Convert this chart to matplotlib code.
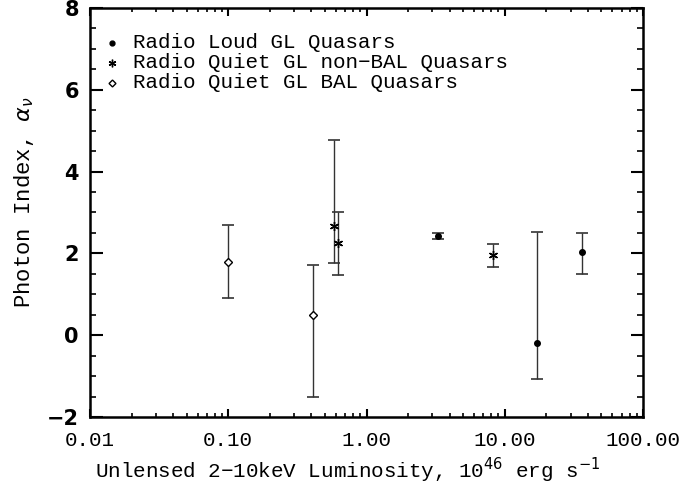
import numpy as np
import matplotlib
matplotlib.use("Agg")
import matplotlib.pyplot as plt
from matplotlib.ticker import FixedLocator, NullFormatter, MultipleLocator

# Radio loud GL quasars (filled dots)
rl_lum = [3.3, 17.1, 36.0]
rl_idx = [2.42, -0.18, 2.03]
rl_lo = [2.34, -1.08, 1.49]
rl_hi = [2.51, 2.53, 2.49]

# Radio quiet GL non-BAL quasars (asterisks)
rq_lum = [0.58, 0.62, 8.2]
rq_idx = [2.67, 2.26, 1.95]
rq_lo = [1.77, 1.48, 1.66]
rq_hi = [4.77, 3.00, 2.22]

# Radio quiet GL BAL quasars (open diamonds)
bal_lum = [0.10, 0.41]
bal_idx = [1.80, 0.49]
bal_lo = [0.90, -1.52]
bal_hi = [2.70, 1.71]

x_ticks = [0.01, 0.1, 1.0, 10.0, 100.0]
x_ticklabels = ["0.01", "0.10", "1.00", "10.00", "100.00"]
y_ticks = [-2, 0, 2, 4, 6, 8]
y_ticklabels = ["\u22122", "0", "2", "4", "6", "8"]

legend_labels = ["Radio Loud GL Quasars",
                 "Radio Quiet GL non\u2212BAL Quasars",
                 "Radio Quiet GL BAL Quasars"]

mono = ["Liberation Mono", "DejaVu Sans Mono"]

fig = plt.figure(figsize=(6.83, 4.84), dpi=100)
ax = fig.add_axes([90 / 683, 67 / 484, 553 / 683, 409 / 484])


def draw(ax, x, y, lo, hi, marker, size, mfc):
    y = np.array(y)
    yerr = [y - np.array(lo), np.array(hi) - y]
    ax.errorbar(x, y, yerr=yerr, fmt="none", ecolor="#333333",
                elinewidth=1.0, capsize=4.5, capthick=1.2)
    ax.plot(x, y, linestyle="none", marker=marker, markersize=size,
            markerfacecolor=mfc, markeredgecolor="black", markeredgewidth=1.0)


draw(ax, rl_lum, rl_idx, rl_lo, rl_hi, "o", 4, "black")
draw(ax, rq_lum, rq_idx, rq_lo, rq_hi, (6, 2, 0), 6.5, "black")
draw(ax, bal_lum, bal_idx, bal_lo, bal_hi, "D", 4, "white")

ax.set_xscale("log")
ax.set_xlim(0.01, 100)
ax.set_ylim(-2, 8)

ax.xaxis.set_major_locator(FixedLocator(x_ticks))
ax.set_xticklabels(x_ticklabels, family=mono)
minors = [m * 10.0 ** e for e in range(-2, 2) for m in range(2, 10)]
ax.xaxis.set_minor_locator(FixedLocator(minors))
ax.xaxis.set_minor_formatter(NullFormatter())
ax.yaxis.set_major_locator(FixedLocator(y_ticks))
ax.set_yticklabels(y_ticklabels, fontweight="bold")
ax.yaxis.set_minor_locator(MultipleLocator(0.5))

ax.tick_params(axis="x", which="major", direction="in", length=6, width=1.5,
               top=True, bottom=True, labelsize=15, pad=10)
ax.tick_params(axis="x", which="minor", direction="in", length=3, width=1.2,
               top=True, bottom=True)
ax.tick_params(axis="y", which="major", direction="in", length=9, width=1.5,
               left=True, right=True, labelsize=15, pad=8)
ax.tick_params(axis="y", which="minor", direction="in", length=4.5, width=1.2,
               left=True, right=True)
for sp in ax.spines.values():
    sp.set_linewidth(1.8)

ax.set_xlabel("Unlensed 2\u221210keV Luminosity, 10$^{46}$ erg s$^{-1}$",
              fontsize=15, family=mono, labelpad=0)
ax.xaxis.set_label_coords(0.4665, -0.095)
ax.set_ylabel(r"Photon Index, $\alpha_\nu$", fontsize=16, family=mono)
ax.yaxis.set_label_coords(-0.098, 0.526)

# legend drawn as marker + text in the upper left corner
leg_markers = [("o", 3.5, "black"), ((6, 2, 0), 5.5, "black"), ("D", 3.5, "white")]
leg_y = [0.915, 0.866, 0.817]
for (m, s, fc), yy, txt in zip(leg_markers, leg_y, legend_labels):
    ax.plot([0.0398], [yy], transform=ax.transAxes, linestyle="none",
            marker=m, markersize=s, markerfacecolor=fc,
            markeredgecolor="black", markeredgewidth=1.0, clip_on=False)
    ax.text(0.078, yy, txt, transform=ax.transAxes, fontsize=15,
            family=mono, va="center", ha="left")

fig.savefig("out.png", dpi=100)
